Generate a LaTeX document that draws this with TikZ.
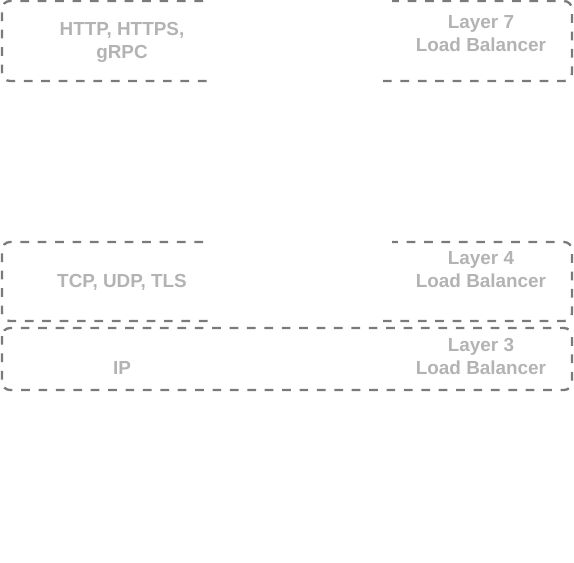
\documentclass[tikz,border=0pt]{standalone}
\usepackage{fontspec}
\setmainfont{Liberation Sans}
\begin{document}
\begin{tikzpicture}[x=1pt,y=-1pt,
  frame/.style={draw=linegray,line width=2.3pt,dash pattern=on 8.7pt off 8.7pt,rounded corners=8pt},
  lbl/.style={text=txtgray,font=\fontsize{18.9}{23}\selectfont\bfseries,align=center,inner sep=0pt}]
\definecolor{linegray}{HTML}{7A7A7A}
\definecolor{txtgray}{HTML}{B3B3B3}
\useasboundingbox (0,0) rectangle (574,563);
% Layer 7 frame
\draw[frame] (203,1) -- (2,1) -- (2,81) -- (209,81);
\draw[frame] (383,81) -- (572,81) -- (572,1) -- (392,1);
% Layer 4 frame
\draw[frame] (203,242) -- (2,242) -- (2,321) -- (209,321);
\draw[frame] (383,321) -- (572,321) -- (572,242) -- (392,242);
% Layer 3 frame
\draw[frame] (2,328) rectangle (572,390);
% labels
\node[lbl] (http) at (122,42) {HTTP, HTTPS,\\gRPC};
\node[lbl] (l7) at (481,34) {Layer 7\\Load Balancer};
\node[lbl,anchor=base] (tcp) at (122,287) {TCP, UDP, TLS};
\node[lbl] (l4) at (481,270) {Layer 4\\Load Balancer};
\node[lbl,anchor=base] (ip) at (122,374) {IP};
\node[lbl] (l3) at (481,356) {Layer 3\\Load Balancer};
\end{tikzpicture}
\end{document}
